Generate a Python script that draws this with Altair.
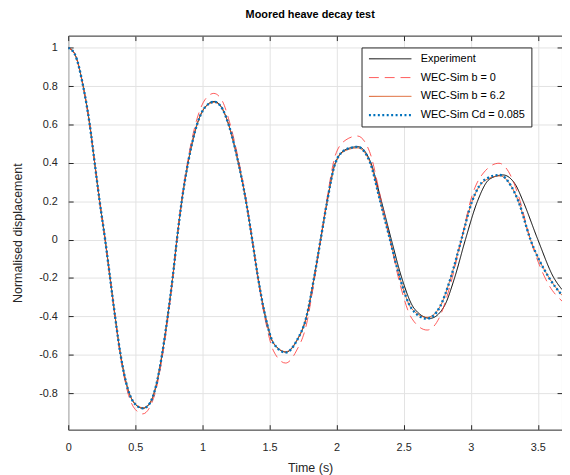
import altair as alt
import pandas as pd

series_names = ["Experiment", "WEC-Sim b = 0", "WEC-Sim b = 6.2", "WEC-Sim Cd = 0.085"]

exp_t = [0, 0.05, 0.111, 0.16, 0.197, 0.234, 0.275, 0.312, 0.349, 0.39, 0.445, 0.50, 0.557, 0.61, 0.655,
         0.699, 0.741, 0.778, 0.81, 0.846, 0.893, 0.96, 1.02, 1.089, 1.15, 1.195, 1.268, 1.325, 1.371,
         1.415, 1.469, 1.53, 1.624, 1.70, 1.776, 1.832, 1.881, 1.93, 1.991, 2.07, 2.16, 2.25, 2.334,
         2.408, 2.486, 2.58, 2.697, 2.80, 2.879, 2.96, 3.05, 3.14, 3.24, 3.33, 3.39, 3.50, 3.62, 3.68]
exp_v = [1.0, 0.965, 0.80, 0.60, 0.40, 0.20, 0.0, -0.20, -0.40, -0.60, -0.78, -0.858, -0.879, -0.85, -0.76,
         -0.60, -0.40, -0.20, 0.0, 0.20, 0.40, 0.60, 0.69, 0.72, 0.68, 0.60, 0.40, 0.20, 0.0,
         -0.20, -0.40, -0.54, -0.586, -0.53, -0.40, -0.20, 0.0, 0.20, 0.40, 0.47, 0.484, 0.41, 0.20,
         0.0, -0.20, -0.36, -0.41, -0.35, -0.20, 0.0, 0.20, 0.315, 0.337, 0.29, 0.20, 0.0, -0.20, -0.26]

cd_t = [0, 0.05, 0.111, 0.16, 0.197, 0.234, 0.275, 0.312, 0.349, 0.39, 0.445, 0.50, 0.557, 0.61, 0.655,
        0.699, 0.741, 0.778, 0.81, 0.846, 0.893, 0.96, 1.02, 1.089, 1.15, 1.195, 1.268, 1.325, 1.371,
        1.415, 1.469, 1.53, 1.622, 1.70, 1.776, 1.832, 1.881, 1.93, 1.991, 2.07, 2.155, 2.245, 2.325,
        2.398, 2.472, 2.56, 2.673, 2.77, 2.85, 2.93, 3.01, 3.11, 3.217, 3.30, 3.355, 3.445, 3.585, 3.68]
cd_v = [1.0, 0.965, 0.80, 0.60, 0.40, 0.20, 0.0, -0.20, -0.40, -0.60, -0.78, -0.858, -0.879, -0.85, -0.76,
        -0.60, -0.40, -0.20, 0.0, 0.20, 0.40, 0.60, 0.69, 0.718, 0.68, 0.60, 0.40, 0.20, 0.0,
        -0.20, -0.40, -0.54, -0.588, -0.53, -0.40, -0.20, 0.0, 0.20, 0.40, 0.47, 0.483, 0.41, 0.20,
        0.0, -0.20, -0.36, -0.412, -0.35, -0.20, 0.0, 0.20, 0.315, 0.337, 0.28, 0.20, 0.0, -0.20, -0.29]

b62_t = [0, 0.05, 0.111, 0.16, 0.197, 0.234, 0.275, 0.312, 0.349, 0.39, 0.445, 0.50, 0.557, 0.61, 0.655,
         0.699, 0.741, 0.778, 0.81, 0.846, 0.893, 0.96, 1.02, 1.089, 1.15, 1.195, 1.268, 1.325, 1.371,
         1.415, 1.469, 1.53, 1.622, 1.70, 1.776, 1.832, 1.881, 1.93, 1.991, 2.07, 2.157, 2.245, 2.325,
         2.398, 2.472, 2.56, 2.675, 2.77, 2.85, 2.93, 3.01, 3.11, 3.22, 3.30, 3.355, 3.445, 3.585, 3.68]
b62_v = [1.0, 0.965, 0.80, 0.60, 0.40, 0.20, 0.0, -0.20, -0.40, -0.60, -0.78, -0.856, -0.876, -0.85, -0.76,
         -0.60, -0.40, -0.20, 0.0, 0.20, 0.40, 0.60, 0.69, 0.715, 0.68, 0.60, 0.40, 0.20, 0.0,
         -0.20, -0.40, -0.54, -0.584, -0.53, -0.40, -0.20, 0.0, 0.20, 0.40, 0.465, 0.478, 0.41, 0.20,
         0.0, -0.20, -0.36, -0.405, -0.35, -0.20, 0.0, 0.20, 0.31, 0.332, 0.28, 0.20, 0.0, -0.20, -0.29]

b0_t = [0, 0.05, 0.111, 0.16, 0.197, 0.234, 0.275, 0.312, 0.349, 0.39, 0.445, 0.50, 0.555, 0.61, 0.655,
        0.699, 0.741, 0.778, 0.81, 0.846, 0.893, 0.96, 1.02, 1.085, 1.15, 1.195, 1.268, 1.325, 1.371,
        1.415, 1.469, 1.53, 1.62, 1.70, 1.776, 1.832, 1.881, 1.93, 1.991, 2.07, 2.155, 2.245, 2.325,
        2.398, 2.472, 2.56, 2.675, 2.77, 2.85, 2.93, 3.01, 3.11, 3.21, 3.30, 3.355, 3.445, 3.585, 3.68]
b0_v = [1.0, 0.965, 0.80, 0.60, 0.40, 0.20, 0.0, -0.20, -0.40, -0.61, -0.80, -0.885, -0.908, -0.87, -0.78,
        -0.62, -0.42, -0.21, 0.0, 0.21, 0.42, 0.63, 0.73, 0.762, 0.72, 0.63, 0.42, 0.21, 0.0,
        -0.21, -0.42, -0.58, -0.643, -0.58, -0.44, -0.22, 0.0, 0.22, 0.44, 0.52, 0.54, 0.46, 0.23,
        0.0, -0.23, -0.41, -0.471, -0.40, -0.23, 0.0, 0.23, 0.36, 0.398, 0.33, 0.23, 0.0, -0.24, -0.32]

x_ticks = [0, 0.5, 1, 1.5, 2, 2.5, 3, 3.5]
y_ticks = [-0.8, -0.6, -0.4, -0.2, 0, 0.2, 0.4, 0.6, 0.8, 1]

rows = []
for name, ts, vs in [(series_names[0], exp_t, exp_v), (series_names[1], b0_t, b0_v),
                     (series_names[2], b62_t, b62_v), (series_names[3], cd_t, cd_v)]:
    for t, v in zip(ts, vs):
        rows.append({"series": name, "t": t, "v": v})
df = pd.DataFrame(rows)

colors = ["#000000", "#FF3030", "#D95319", "#0072BD"]
dashes = [[1, 0], [10, 6], [1, 0], [2, 2.5]]
widths = [1.0, 0.8, 1.0, 2.4]

FONT = "Liberation Sans"
AX = "#262626"

x_scale = alt.Scale(domain=[0, 3.68], nice=False, zero=False)
y_scale = alt.Scale(domain=[-0.99, 1.063], nice=False, zero=False)

lab = "datum.value < 0 ? '-' + format(-datum.value, '.1~f') : format(datum.value, '.1~f')"

x_axis = alt.Axis(orient="bottom", values=x_ticks, labelExpr=lab, title="Time (s)", offset=-5,
                  tickSize=5, labelPadding=12, titlePadding=9, titleX=245)
y_axis = alt.Axis(orient="left", values=y_ticks, labelExpr=lab, title="Normalised displacement",
                  offset=-5, tickSize=5, labelPadding=11, titlePadding=14)

legend = alt.Legend(title=None, orient="none", legendX=297, legendY=12,
                    symbolType="M-1,0H7.6",
                    symbolSize=100, labelFontSize=11,
                    labelFont=FONT, labelColor="#000000", fillColor="#ffffff", strokeColor=AX,
                    padding=6, rowPadding=7, labelOffset=41, labelLimit=300)

lines = alt.Chart(df).mark_line(interpolate="monotone", clip=True).encode(
    x=alt.X("t:Q", scale=x_scale, axis=x_axis),
    y=alt.Y("v:Q", scale=y_scale, axis=y_axis),
    color=alt.Color("series:N", scale=alt.Scale(domain=series_names, range=colors), legend=legend),
    strokeDash=alt.StrokeDash("series:N", scale=alt.Scale(domain=series_names, range=dashes), legend=legend),
    strokeWidth=alt.StrokeWidth("series:N", scale=alt.Scale(type="ordinal", domain=series_names, range=widths),
                                legend=legend),
    order=alt.Order("t:Q"),
)

frame_axes = alt.Chart(df).mark_point(opacity=0).encode(
    x=alt.X("t:Q", scale=x_scale, axis=alt.Axis(orient="top", values=x_ticks, labels=False, title=None,
                                                 grid=False, offset=-5, tickSize=5)),
    y=alt.Y("v:Q", scale=y_scale, axis=alt.Axis(orient="right", values=y_ticks, labels=False, title=None,
                                                 grid=False, offset=-5, tickSize=5)),
)

chart = alt.layer(lines, frame_axes).resolve_axis(x="independent", y="independent").properties(
    width=500, height=399,
    title=alt.TitleParams("Moored heave decay test", font=FONT, fontSize=11, fontWeight="bold",
                          color="#000000", offset=15, dx=-5),
    autosize=alt.AutoSizeParams(type="none"),
    padding={"left": 61, "top": 25, "right": 0, "bottom": 46},
).configure_view(stroke=AX, strokeWidth=1).configure_axis(
    domain=False, grid=True, gridColor="#e3e3e3", gridWidth=1, tickColor=AX, labelColor=AX,
    labelFont=FONT, labelFontSize=11, titleFont=FONT, titleFontSize=12.6, titleFontWeight="normal",
    titleColor=AX, labelFlush=False, labelOverlap=False, ticks=True
)

chart.save("out.html", embed_options={"renderer": "svg", "actions": False})
